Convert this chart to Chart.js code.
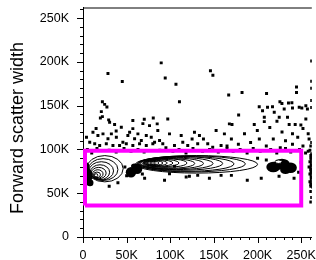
<!DOCTYPE html>
<html>
<head>
  <title>Forward scatter width</title>
  <script src="https://cdn.jsdelivr.net/npm/chart.js"></script>
  <style>
    body { margin: 0; background: #fff; }
    canvas { display: block; }
  </style>
</head>
<body>
  <canvas id="fscChart" width="316" height="260"></canvas>

  <script>
    // all values are in thousands (K)
    const axisMax = 262.144;
    const minorStep = 10;
    const yTitle = "Forward scatter width";

    // gate rectangle corners
    const gateX = [2.3, 250, 250, 2.3, 2.3];
    const gateY = [36, 36, 98.5, 98.5, 36];

    // contour rings: [centre x, centre y, half width, half height]
    const ringsA = [
      [25, 78, 21, 15], [23, 77, 17, 12.5], [21, 75.5, 14, 10.5], [19.5, 74, 11, 8.5],
      [18, 73, 8.5, 6.5], [17, 72, 6, 4.8], [16, 71, 4, 3.2], [15, 70.5, 2, 1.8]
    ];
    const ringsB = [
      [130, 83, 70, 10], [124, 83.5, 62, 9.2], [118, 83.5, 55, 8.5], [112, 84, 48, 7.8],
      [107, 84, 42, 7], [102, 84, 36, 6.3], [98, 84, 30, 5.6], [94, 84.5, 25, 5],
      [90, 84.5, 20, 4.3], [87, 84.5, 16, 3.6], [84.5, 84.5, 12, 3], [82.5, 84.5, 9, 2.4],
      [81, 84.5, 6, 1.8], [80, 84.5, 3, 1.2]
    ];
    // dense, saturated patches
    const blobs = [
      [218, 80, 8, 6], [228, 83, 9, 6.5], [238, 79, 7, 6], [232, 76, 6, 4],
      [55, 74, 6, 6], [62, 78, 6, 6], [59, 81, 4, 3],
      [6, 70, 5, 8], [4, 80, 3.5, 5], [8, 62, 4, 4],
      [262, 75, 2.5, 20]
    ];
    const holes = [[224, 86, 4, 2]];

    const sparseEvents = [
      [89.6,198.9],[28.6,186.7],[45,177.6],[94.2,181.5],[106.5,174.5],[146,189.8],[148.8,184.7],[166.9,162.2],
      [110.5,154.5],[22.2,154.5],[24.8,151.5],[27.4,148.5],[21,143.2],[19.9,136],[29.4,133.8],[57.1,133],
      [70.2,134.4],[80.5,136],[97.1,134.9],[178.3,139.4],[182.2,165.1],[210.3,164],[244.6,171.3],[244.6,165.1],
      [170.7,128.4],[196.2,128.4],[207.7,136.7],[207.7,131.8],[201.9,148.9],[205.7,144.3],[211.4,148.1],
      [217.1,148.9],[219.1,142.4],[225.6,154.5],[227.9,152.6],[230.5,146.2],[235.4,153.1],[239.3,153.4],
      [240,147.4],[247.7,148.1],[250.7,147.4],[255.3,150],[257.1,146.2],[224.8,136.7],[222.2,132.2],
      [234.3,136.7],[236.2,128.4],[243.1,128.4],[249.6,128],[255.3,134.9],[22.2,137.5],[85,129.2],[85.7,121.6],
      [127.7,119.6],[152.5,121.6],[162,117.8],[167.7,129.2],[68.6,129.5],[76.2,127.2],[57.1,123.8],[30.5,131],
      [36.2,128.4],[43.9,125.3]
    ];
    const midEvents = [
      [11.4,119.6],[17.1,115.9],[22.9,117.8],[28.6,112.1],[32.5,117.8],[38.2,113.9],[45.7,108.3],[51.4,115.9],
      [53.4,119.6],[59.1,112.1],[62.9,117.8],[66.8,110.2],[72.5,115.9],[78.2,113.9],[82,108.3],[7.7,108.3],
      [13.4,106.5],[19.1,104.5],[26.7,106.5],[34.3,104.5],[41.9,104.5],[49.6,106.5],[57.1,104.5],[64.8,106.5],
      [72.5,104.5],[80,106.5],[87.7,110.2],[91.4,106.5],[99.1,117.8],[112.5,115.9],[114.3,108.3],[133.4,115.9],
      [131.4,106.5],[142.9,106.5],[148.6,102.6],[158.2,104.5],[120,104.5],[104.8,104.5],[199.7,121.6],[214,125],
      [228,120],[240,118],[252,124],[218,112],[232,110],[246,114],[258,118],[202,112],[210,104],[226,102],
      [240,106],[252,104],[258,98],[170,112],[185,118],[178,106],[192,108],[165,104],[138,112],[125,112],
      [4,114],[15,124],[38,121]
    ];
    const bandEvents = [
      [5,100],[10,96],[16,101],[30,99],[38,97],[47,101],[55,98],[63,100],[70,97],[88,99],[95,102],[103,98],
      [110,100],[118,96],[126,101],[137,98],[145,100],[155,97],[165,101],[172,98],[180,100],[188,96],[195,101],
      [203,98],[215,100],[222,96],[232,101],[238,97],[248,100],[255,96]
    ];
    const lowEvents = [
      [104.8,80.7],[118.2,68.5],[131.4,70.4],[158.2,70.4],[99.1,72.3],[70.6,67],[93.4,64.8],[121.9,69.3],
      [144.8,67],[170,70.4],[188.2,64.8],[204.2,67],[224.6,69.3],[241.8,67],[40,62],[30,58],[200,90],[210,88],
      [250,85],[247,74],[68,72],[48,80],[50,70]
    ];
    const edgeEvents = [
      [261,52],[261,58],[260,63],[262,68],[260,72],[261,77],[262,82],[260,86],[261,90],[262,95],[260,99],
      [261,104],[262,108],[259,112],[261,60],[262,74],[259,80],[261,93],[262,45],[261,40],
      [262,201],[262,178],[262,170],[262,156],[262,148]
    ];

    const fontFamily = "'Liberation Sans', Arial, sans-serif";

    function toPoints(list) {
      return list.map(p => ({ x: p[0], y: p[1] }));
    }

    function ellipse(ctx, xs, ys, r) {
      const cx = xs.getPixelForValue(r[0]);
      const cy = ys.getPixelForValue(r[1]);
      const rx = Math.abs(xs.getPixelForValue(r[0] + r[2]) - cx);
      const ry = Math.abs(ys.getPixelForValue(r[1] + r[3]) - cy);
      ctx.beginPath();
      ctx.ellipse(cx, cy, rx, ry, 0, 0, Math.PI * 2);
    }

    const contourPlugin = {
      id: "contours",
      beforeDatasetsDraw(chart) {
        const { ctx, chartArea, scales } = chart;
        ctx.save();
        ctx.beginPath();
        ctx.rect(chartArea.left, chartArea.top, chartArea.width, chartArea.height);
        ctx.clip();
        ctx.fillStyle = "#000";
        blobs.forEach(b => { ellipse(ctx, scales.x, scales.y, b); ctx.fill(); });
        ctx.fillStyle = "#fff";
        holes.forEach(h => { ellipse(ctx, scales.x, scales.y, h); ctx.fill(); });
        ctx.strokeStyle = "#000";
        ctx.lineWidth = 1;
        holes.concat(ringsA, ringsB).forEach(r => { ellipse(ctx, scales.x, scales.y, r); ctx.stroke(); });
        ctx.restore();
      }
    };

    const framePlugin = {
      id: "frame",
      afterDraw(chart) {
        const { ctx, chartArea, scales } = chart;
        ctx.save();
        ctx.strokeStyle = "#000";
        ctx.lineWidth = 1;
        ctx.beginPath();
        ctx.moveTo(chartArea.left, chartArea.top + 0.5);
        ctx.lineTo(chartArea.right, chartArea.top + 0.5);
        for (let v = 0; v <= axisMax; v += minorStep) {
          const len = v % 50 === 0 ? 6 : 3;
          const px = Math.round(scales.x.getPixelForValue(v)) + 0.5;
          ctx.moveTo(px, chartArea.bottom);
          ctx.lineTo(px, chartArea.bottom + len);
          const py = Math.round(scales.y.getPixelForValue(v)) + 0.5;
          ctx.moveTo(chartArea.left, py);
          ctx.lineTo(chartArea.left - len, py);
        }
        ctx.stroke();

        ctx.fillStyle = "#000";
        ctx.font = "18px " + fontFamily;
        ctx.textAlign = "center";
        ctx.textBaseline = "middle";
        ctx.translate(18, 128);
        ctx.rotate(-Math.PI / 2);
        ctx.fillText(yTitle, 0, 0);
        ctx.restore();
      }
    };

    const tickLabel = v => (v === 0 ? "0" : v + "K");

    // tick marks are drawn by framePlugin; the grid only reserves the space
    const hiddenGrid = len => ({
      display: true,
      drawOnChartArea: false,
      drawTicks: true,
      tickLength: len,
      color: "rgba(0,0,0,0)"
    });

    new Chart(document.getElementById("fscChart"), {
      type: "scatter",
      data: {
        datasets: [
          {
            label: "Gate",
            data: gateX.map((x, i) => ({ x: x, y: gateY[i] })),
            showLine: true,
            borderColor: "#ff00ff",
            borderWidth: 4,
            pointRadius: 0,
            tension: 0
          },
          {
            label: "Events",
            data: toPoints(sparseEvents.concat(midEvents, bandEvents, lowEvents, edgeEvents)),
            pointStyle: "rect",
            pointRadius: 2.1,
            borderWidth: 0,
            backgroundColor: "#000"
          }
        ]
      },
      options: {
        responsive: false,
        animation: false,
        devicePixelRatio: 1,
        layout: { padding: { top: 6, right: 3, left: 0, bottom: 0 } },
        plugins: { legend: { display: false }, tooltip: { enabled: false } },
        scales: {
          x: {
            type: "linear",
            min: 0,
            max: axisMax,
            afterFit(scale) { scale.height = 23; },
            grid: hiddenGrid(11),
            border: { display: true, color: "#000", width: 1 },
            ticks: {
              stepSize: 50,
              includeBounds: false,
              autoSkip: false,
              maxRotation: 0,
              padding: 0,
              color: "#000",
              font: { family: fontFamily, size: 12.5 },
              callback: tickLabel
            }
          },
          y: {
            type: "linear",
            min: 0,
            max: axisMax,
            afterFit(scale) { scale.width = 83; },
            grid: hiddenGrid(14),
            border: { display: true, color: "#000", width: 1 },
            ticks: {
              stepSize: 50,
              includeBounds: false,
              autoSkip: false,
              padding: 0,
              color: "#000",
              font: { family: fontFamily, size: 12.5 },
              callback: tickLabel
            }
          }
        }
      },
      plugins: [contourPlugin, framePlugin]
    });
  </script>
</body>
</html>
